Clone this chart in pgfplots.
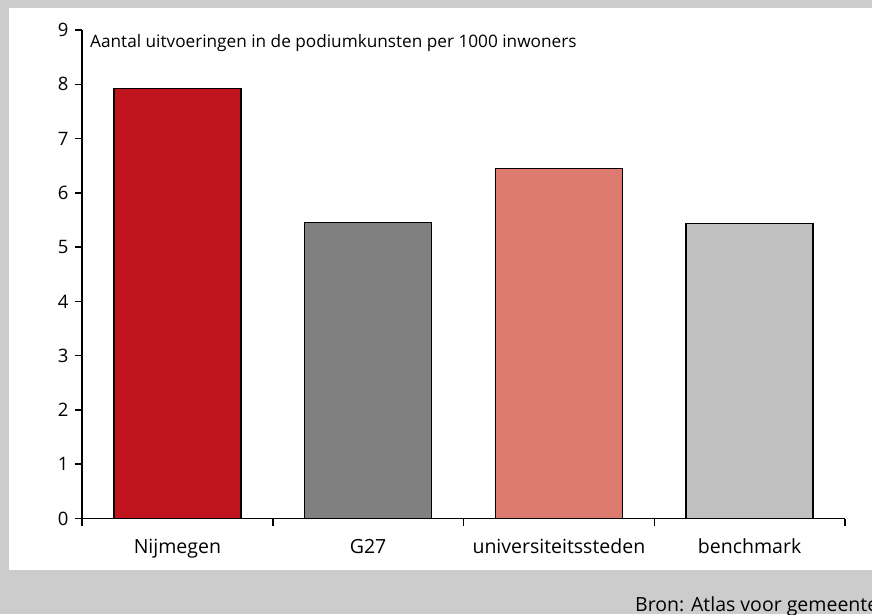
\documentclass[border=0pt]{standalone}
\usepackage{fontspec}
\setmainfont{Open Sans}
\usepackage{pgfplots}
\pgfplotsset{compat=1.18}
\definecolor{bggray}{RGB}{204,204,204}
\definecolor{nijred}{RGB}{192,20,30}
\definecolor{ggray}{RGB}{128,128,128}
\definecolor{unisalmon}{RGB}{221,123,112}
\definecolor{benchgray}{RGB}{192,192,192}
\begin{document}
\begin{tikzpicture}[x=1pt,y=1pt]
\clip (0,0) rectangle (872,614);
\fill[bggray] (0,0) rectangle (872,614);
\fill[white] (9,44) rectangle (872,606);
\begin{axis}[
  at={(82pt,95.5pt)}, anchor=south west,
  scale only axis, width=763pt, height=488.5pt,
  xmin=-0.5, xmax=3.5, ymin=0, ymax=9,
  axis lines*=left,
  axis line style={-, black, line width=1.5pt},
  font=\fontsize{18.5}{22}\selectfont,
  /pgf/number format/assume math mode=true,
  ytick={0,1,...,9},
  xtick={-0.5,0.5,1.5,2.5,3.5},
  xticklabels={},
  tick align=outside,
  major tick length=7pt,
  tick style={black, line width=1.5pt},
  yticklabel style={xshift=-3pt},
  ybar, bar width=0.666, bar shift=0pt,
  clip=false,
]
\addplot[fill=nijred, draw=black, line width=1.4pt] coordinates {(0,7.92)};
\addplot[fill=ggray, draw=black, line width=1.4pt] coordinates {(1,5.455)};
\addplot[fill=unisalmon, draw=black, line width=1.4pt] coordinates {(2,6.45)};
\addplot[fill=benchgray, draw=black, line width=1.4pt] coordinates {(3,5.44)};
\node[anchor=base, font=\fontsize{19.5}{22}\selectfont] at (axis cs:0,-0.64) {Nijmegen};
\node[anchor=base, font=\fontsize{19.5}{22}\selectfont] at (axis cs:1,-0.64) {G27};
\node[anchor=base, font=\fontsize{19.5}{22}\selectfont] at (axis cs:2,-0.64) {universiteitssteden};
\node[anchor=base, font=\fontsize{19.5}{22}\selectfont] at (axis cs:3,-0.64) {benchmark};
\end{axis}
\node[anchor=base west, inner sep=0pt, font=\fontsize{17.2}{20}\selectfont] at (90,566) {Aantal uitvoeringen in de podiumkunsten per 1000 inwoners};
\node[anchor=base west, inner sep=0pt, font=\fontsize{19.5}{22}\selectfont] at (635,3) {Bron: Atlas voor gemeenten};
\end{tikzpicture}
\end{document}
